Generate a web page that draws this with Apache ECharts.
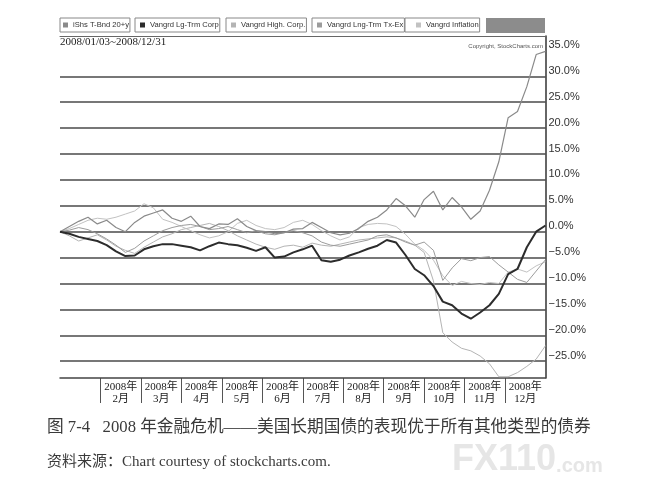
<!DOCTYPE html>
<html>
<head>
<meta charset="utf-8">
<script src="https://cdn.jsdelivr.net/npm/echarts@6/dist/echarts.min.js"></script>
<style>
html,body{margin:0;padding:0;background:#fff;}
#chart{width:649px;height:504px;}
</style>
</head>
<body>
<div id="chart"></div>
<script>
// 周线日期 2008
var weekDates = ['01/03','01/10','01/17','01/24','01/31','02/07','02/14','02/21','02/28',
  '03/06','03/13','03/20','03/27','04/03','04/10','04/17','04/24','05/01','05/08','05/15',
  '05/22','05/29','06/05','06/12','06/19','06/26','07/03','07/10','07/17','07/24','07/31',
  '08/07','08/14','08/21','08/28','09/04','09/11','09/18','09/25','10/02','10/09','10/16',
  '10/23','10/30','11/06','11/13','11/20','11/27','12/04','12/11','12/18','12/24','12/31'];
// 月份刻度
var monthLabels = ['','2008年\n2月','2008年\n3月','2008年\n4月','2008年\n5月','2008年\n6月',
  '2008年\n7月','2008年\n8月','2008年\n9月','2008年\n10月','2008年\n11月','2008年\n12月'];
var seriesNames = ['iShs T-Bnd 20+y','Vangrd Lg-Trm Corp','Vangrd High. Corp.','Vangrd Lng-Trm Tx-Ex','Vangrd Inflation'];

// 涨跌幅 %
var tltData = [0,1.0,2.0,2.8,1.5,2.2,0.8,0.0,1.8,3.0,3.6,4.2,2.6,2.0,3.0,1.0,0.6,1.5,1.4,2.5,
  1.0,0.2,0.0,-0.4,-0.2,0.5,0.6,1.8,0.8,-0.2,-0.6,-0.3,0.6,2.0,2.8,4.2,6.4,5.0,2.8,6.2,
  7.8,4.2,6.6,4.8,2.4,4.0,8.0,13.5,22.0,23.2,28.0,34.2,34.8];
var lgCorpData = [0,-0.4,-1.0,-1.4,-1.8,-2.6,-3.8,-4.7,-4.6,-3.4,-2.8,-2.4,-2.4,-2.7,-3.0,-3.6,-2.8,-2.1,-2.4,-2.6,
  -3.1,-3.7,-3.0,-5.0,-4.8,-4.0,-3.4,-2.7,-5.5,-5.8,-5.4,-4.6,-4.0,-3.3,-2.7,-1.6,-2.1,-4.5,-7.2,-8.4,
  -10.5,-13.5,-14.2,-15.8,-16.8,-15.6,-14.2,-12.0,-8.2,-7.2,-3.0,0,1.2];
var highCorpData = [0,-0.8,-1.8,-1.2,-0.6,-1.6,-2.8,-3.6,-4.2,-3.0,-2.0,-1.0,-0.4,0.4,0.8,1.2,1.6,1.0,0.2,-0.8,
  -1.6,-2.4,-3.0,-3.4,-2.8,-2.6,-3.0,-2.2,-2.6,-2.8,-2.4,-2.0,-1.6,-1.4,-1.2,-1.0,-1.2,-1.8,-2.6,-4.0,
  -9.5,-19.5,-21.3,-22.5,-23.0,-24.0,-25.5,-28.0,-28.0,-27.2,-26.0,-24.6,-22.0];
var taxExData = [0,0.3,0.8,0.4,-0.4,-1.4,-2.6,-4.0,-3.2,-1.8,-0.8,0.2,0.8,1.2,1.4,1.0,0.4,0.6,1.0,0.4,
  -0.2,0.2,-0.4,-0.6,-0.2,0.2,-0.2,-0.8,-2.0,-2.6,-2.8,-2.4,-2.0,-1.6,-0.8,-0.6,-1.2,-2.0,-2.6,-2.0,
  -3.6,-9.4,-7.0,-5.2,-5.6,-5.0,-4.8,-6.4,-7.8,-9.2,-9.8,-7.6,-5.4];
var inflationData = [0,0.6,1.4,2.2,2.6,2.4,2.8,3.4,4.0,5.4,4.6,2.4,1.8,1.0,0.2,-0.6,-1.2,-0.8,0.0,1.6,
  2.2,1.2,0.6,0.4,0.8,1.8,2.2,1.4,0.2,-0.8,-1.6,-1.0,0.8,1.4,1.6,1.5,1.0,-0.5,-2.4,-3.6,
  -5.5,-8.5,-10.4,-9.6,-10.0,-10.2,-9.8,-10.0,-7.8,-7.2,-7.8,-6.6,-5.8];

var myChart = echarts.init(document.getElementById('chart'));

var sansFont = '"Liberation Sans", Arial, sans-serif';
var serifFont = '"Liberation Serif", "Noto Sans CJK SC", serif';

//图例：每项一个小框
var legendLeft = [60, 135, 226, 312, 405];
var legendWidth = [75, 91, 86, 93, 81];
var legendPadLeft = [3, 5, 5, 5, 11];
var legends = [];
for (var i = 0; i < seriesNames.length; i++) {
  legends.push({
    data: [seriesNames[i]],
    left: legendLeft[i], top: 18,
    padding: [3, 1, 3, legendPadLeft[i]],
    itemWidth: 5, itemHeight: 5, icon: 'rect', itemGap: 0,
    borderColor: '#888', borderWidth: 1,
    selectedMode: false,
    textStyle: {
      fontSize: 7.6, fontFamily: sansFont, color: '#333',
      width: legendWidth[i] - legendPadLeft[i] - 5 - 5 - 2, overflow: 'none'
    }
  });
}

function pctLabel(v) {
  var s = Math.abs(v).toFixed(1) + '%';
  return v < 0 ? '\u2212' + s : s;
}

function lineSeries(name, data, color, width) {
  return {
    name: name, type: 'line', data: data,
    xAxisIndex: 0, yAxisIndex: 0,
    symbol: 'none', clip: false,
    itemStyle: { color: color },
    lineStyle: { color: color, width: width }
  };
}

var option = {
  backgroundColor: '#fff',
  animation: false,
  title: [
    { text: '2008/01/03~2008/12/31', left: 60, top: 37, padding: 0,
      textStyle: { fontSize: 11, fontWeight: 'normal', fontFamily: serifFont, color: '#222' } },
    { text: 'Copyright, StockCharts.com', right: 106, top: 43, padding: 0,
      textStyle: { fontSize: 6, fontWeight: 'normal', fontFamily: sansFont, color: '#555' } },
    { text: '图 7-4   2008 年金融危机——美国长期国债的表现优于所有其他类型的债券', left: 47, top: 419, padding: 0,
      textStyle: { fontSize: 16.7, fontWeight: 'normal', fontFamily: serifFont, color: '#3a3a3a' } },
    { text: '资料来源：Chart courtesy of stockcharts.com.', left: 47, top: 455, padding: 0,
      textStyle: { fontSize: 15, fontWeight: 'normal', fontFamily: serifFont, color: '#3a3a3a' } },
    { text: '{a|FX110}{b|.com}', left: 452, top: 442, padding: 0,
      textStyle: { rich: {
        a: { fontSize: 36, fontWeight: 'bold', fontFamily: sansFont, color: '#e6e6e6' },
        b: { fontSize: 20, fontFamily: sansFont, color: '#e6e6e6', padding: [12, 0, 0, 0] }
      } } }
  ],
  legend: legends,
  graphic: [
    { type: 'rect', shape: { x: 486, y: 18, width: 59, height: 15 }, style: { fill: '#8c8c8c' }, silent: true }
  ],
  grid: [
    //数据区
    { left: 60, right: 103.5, top: 50.4, height: 336.7 },
    //月份刻度条
    { left: 60, right: 103.5, top: 378, height: 25 },
    //外框
    { left: 60, right: 103.5, top: 36, bottom: 126 }
  ],
  xAxis: [
    { gridIndex: 0, type: 'category', data: weekDates, boundaryGap: false, show: false },
    { gridIndex: 1, type: 'category', data: monthLabels, position: 'top', boundaryGap: true,
      axisLine: { show: true, onZero: false, lineStyle: { color: '#444', width: 1.5 } },
      axisTick: { show: false },
      axisLabel: { inside: true, margin: 3, interval: 0, fontSize: 11, lineHeight: 12,
        fontFamily: serifFont, color: '#222' },
      splitLine: { show: true, showMinLine: false, showMaxLine: false, lineStyle: { color: '#555', width: 1 } } },
    { gridIndex: 2, type: 'value', position: 'top', min: 0, max: 1,
      axisLine: { show: true, onZero: false, lineStyle: { color: '#666', width: 1 } },
      axisTick: { show: false }, axisLabel: { show: false }, splitLine: { show: false } }
  ],
  yAxis: [
    { gridIndex: 0, type: 'value', position: 'right', min: -30, max: 35, interval: 5,
      axisLine: { show: false }, axisTick: { show: false },
      axisLabel: { margin: 3, fontSize: 11, fontFamily: sansFont, color: '#333',
        verticalAlign: 'bottom', showMinLabel: false, showMaxLabel: true, formatter: pctLabel },
      splitLine: { show: true, showMinLine: false, showMaxLine: false, lineStyle: { color: '#4a4a4a', width: 1.5 } } },
    { gridIndex: 1, type: 'value', show: false },
    { gridIndex: 2, type: 'value', position: 'right', min: 0, max: 1,
      axisLine: { show: true, onZero: false, lineStyle: { color: '#333', width: 1.5 } },
      axisTick: { show: false }, axisLabel: { show: false }, splitLine: { show: false } }
  ],
  series: [
    lineSeries(seriesNames[2], highCorpData, '#b4b4b4', 1),
    lineSeries(seriesNames[4], inflationData, '#c2c2c2', 1),
    lineSeries(seriesNames[3], taxExData, '#9c9c9c', 1),
    lineSeries(seriesNames[0], tltData, '#8a8a8a', 1.2),
    lineSeries(seriesNames[1], lgCorpData, '#2c2c2c', 2)
  ]
};

myChart.setOption(option);
</script>
</body>
</html>
